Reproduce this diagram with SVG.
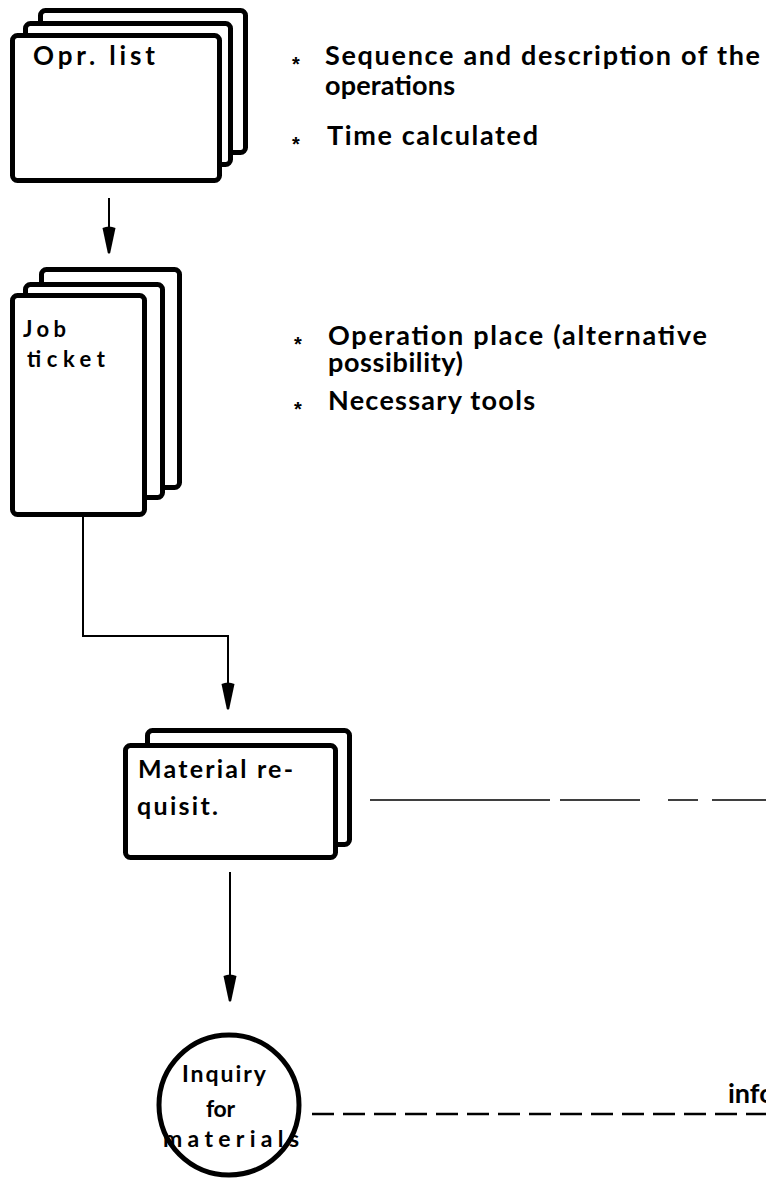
<svg xmlns="http://www.w3.org/2000/svg" xmlns:xlink="http://www.w3.org/1999/xlink" width="766" height="1178" viewBox="0 0 766 1178">
  <style>
    .card { fill: #fff; stroke: #000; stroke-width: 5; stroke-linejoin: round; }
    .circ { fill: #fff; stroke: #000; stroke-width: 5; }
    .flow { fill: none; stroke: #000; stroke-width: 2; }
    .dash1 { fill: none; stroke: #000; stroke-width: 1.6; stroke-dasharray: 180 10 80 28 30 14; }
    .dash2 { fill: none; stroke: #000; stroke-width: 2.5; stroke-dasharray: 22 9; }
    .lbl { font-family: Lato, "Liberation Sans", sans-serif; font-weight: 700; fill: #000; }
    .note { font-family: Lato, "Liberation Sans", sans-serif; font-weight: 700; font-size: 27px; fill: #000; }
    .star { font-family: "Liberation Sans", sans-serif; font-weight: 700; font-size: 20px; fill: #000; }
  </style>
  <defs>
    <!-- tapered arrowhead, tip at (0,0) pointing down -->
    <path id="head" d="M-6.5,-26 Q0,-29 6.5,-26 L1.2,-1 Q0,0 -1.2,-1 Z" fill="#000"/>
  </defs>

  <!-- operation list: stack of three cards -->
  <g id="opr-list">
    <rect class="card" x="40.5" y="10.5" width="205" height="142" rx="5"/>
    <rect class="card" x="25.5" y="23.5" width="205" height="141" rx="5"/>
    <rect class="card" x="12.5" y="35.5" width="207" height="145" rx="5"/>
    <text class="lbl" x="33" y="65" font-size="26" textLength="122" lengthAdjust="spacing">Opr. list</text>
  </g>

  <g id="opr-notes">
    <text class="star" x="292" y="71">*</text>
    <text class="note" x="325" y="65" textLength="435" lengthAdjust="spacing">Sequence and description of the</text>
    <text class="note" x="325" y="95" textLength="130" lengthAdjust="spacing">operations</text>
    <text class="star" x="292" y="151">*</text>
    <text class="note" x="327" y="145" textLength="211" lengthAdjust="spacing">Time calculated</text>
  </g>

  <!-- job ticket: stack of three cards -->
  <g id="job-ticket">
    <rect class="card" x="41.5" y="269.5" width="138" height="218" rx="5"/>
    <rect class="card" x="25.5" y="284.5" width="137" height="213" rx="5"/>
    <rect class="card" x="12.5" y="295.5" width="132" height="219" rx="5"/>
    <text class="lbl" x="23" y="337" font-size="22" textLength="43" lengthAdjust="spacing">Job</text>
    <text class="lbl" x="27" y="367" font-size="22" textLength="78" lengthAdjust="spacing">ticket</text>
  </g>

  <g id="job-notes">
    <text class="star" x="294" y="351">*</text>
    <text class="note" x="328" y="345" textLength="379" lengthAdjust="spacing">Operation place (alternative</text>
    <text class="note" x="328" y="372" textLength="135" lengthAdjust="spacing">possibility)</text>
    <text class="star" x="294" y="416">*</text>
    <text class="note" x="328" y="410" textLength="207" lengthAdjust="spacing">Necessary tools</text>
  </g>

  <!-- material requisition: two cards -->
  <g id="material-req">
    <rect class="card" x="147.5" y="730.5" width="202" height="114" rx="5"/>
    <rect class="card" x="125.5" y="745.5" width="210" height="112" rx="5"/>
    <text class="lbl" x="138" y="778" font-size="25" textLength="155" lengthAdjust="spacing">Material re-</text>
    <text class="lbl" x="137" y="815" font-size="25" textLength="81" lengthAdjust="spacing">quisit.</text>
  </g>

  <!-- inquiry for materials -->
  <g id="inquiry">
    <circle class="circ" cx="229" cy="1105" r="70"/>
    <text class="lbl" x="182" y="1082" font-size="23" textLength="84" lengthAdjust="spacing">Inquiry</text>
    <text class="lbl" x="206" y="1117" font-size="23" textLength="29" lengthAdjust="spacing">for</text>
    <text class="lbl" x="163" y="1147" font-size="23" textLength="136" lengthAdjust="spacing">materials</text>
  </g>

  <g id="info-label">
    <text class="note" x="728" y="1103">info</text>
  </g>

  <g id="connectors">
    <line class="flow" x1="109" y1="198" x2="109" y2="232"/>
    <use xlink:href="#head" x="109" y="254"/>

    <polyline class="flow" points="83,517 83,636 228,636 228,684"/>
    <use xlink:href="#head" x="228" y="710"/>

    <line class="flow" x1="230" y1="872" x2="230" y2="976"/>
    <use xlink:href="#head" x="230" y="1002"/>

    <line class="dash1" x1="370" y1="800" x2="766" y2="800"/>
    <line class="dash2" x1="312" y1="1114" x2="766" y2="1114"/>
  </g>
</svg>
